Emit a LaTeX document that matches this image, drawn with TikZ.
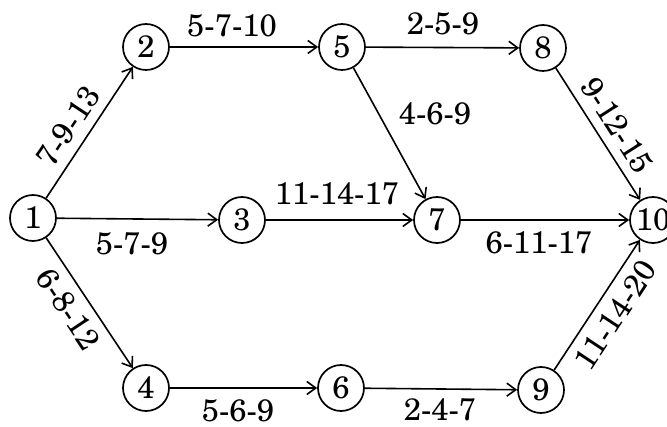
\documentclass[tikz,border=0pt]{standalone}
\usepackage{fontspec}
\setmainfont{TeX Gyre Schola}
\usetikzlibrary{arrows.meta}
\begin{document}
\begin{tikzpicture}[x=1pt,y=-1pt,
  ev/.style={circle,draw,line width=1.7pt,minimum size=46pt,inner sep=0pt,font=\fontsize{31}{33}\selectfont},
  act/.style={line width=1.6pt,-{Straight Barb[length=9pt,width=13pt,line width=1.6pt]}},
  lab/.style={font=\fontsize{31}{33}\selectfont,inner sep=2pt},
  slab/.style={lab,sloped,inner sep=9pt}]
\useasboundingbox (0,0) rectangle (667,427);
\node[ev] (n1) at (33,218) {1};
\node[ev] (n2) at (146,47) {2};
\node[ev] (n5) at (342,47) {5};
\node[ev] (n8) at (543,48) {8};
\node[ev] (n3) at (242,220) {3};
\node[ev] (n7) at (437,220) {7};
\node[ev] (n10) at (653,220) {10};
\node[ev] (n4) at (146,388) {4};
\node[ev] (n6) at (341,388) {6};
\node[ev] (n9) at (541,390) {9};
\draw[act] (n1) -- node[slab,above,pos=0.46] {7-9-13} (n2);
\draw[act] (n1) -- node[slab,below,pos=0.46] {6-8-12} (n4);
\draw[act] (n1) -- (n3);
\node[lab] (l13) at (132,244) {5-7-9};
\draw[act] (n2) -- (n5);
\node[lab] (l25) at (232,26) {5-7-10};
\draw[act] (n5) -- (n8);
\node[lab] (l58) at (443,24) {2-5-9};
\draw[act] (n5) -- (n7);
\node[lab] (l57) at (435,114) {4-6-9};
\draw[act] (n3) -- (n7);
\node[lab] (l37) at (337,194) {11-14-17};
\draw[act] (n7) -- (n10);
\node[lab] (l710) at (539,243) {6-11-17};
\draw[act] (n8) -- node[slab,above,pos=0.52] {9-12-15} (n10);
\draw[act] (n4) -- (n6);
\node[lab] (l46) at (238,411) {5-6-9};
\draw[act] (n6) -- (n9);
\node[lab] (l69) at (440,410) {2-4-7};
\draw[act] (n9) -- node[slab,below,pos=0.51] {11-14-20} (n10);
\end{tikzpicture}
\end{document}
